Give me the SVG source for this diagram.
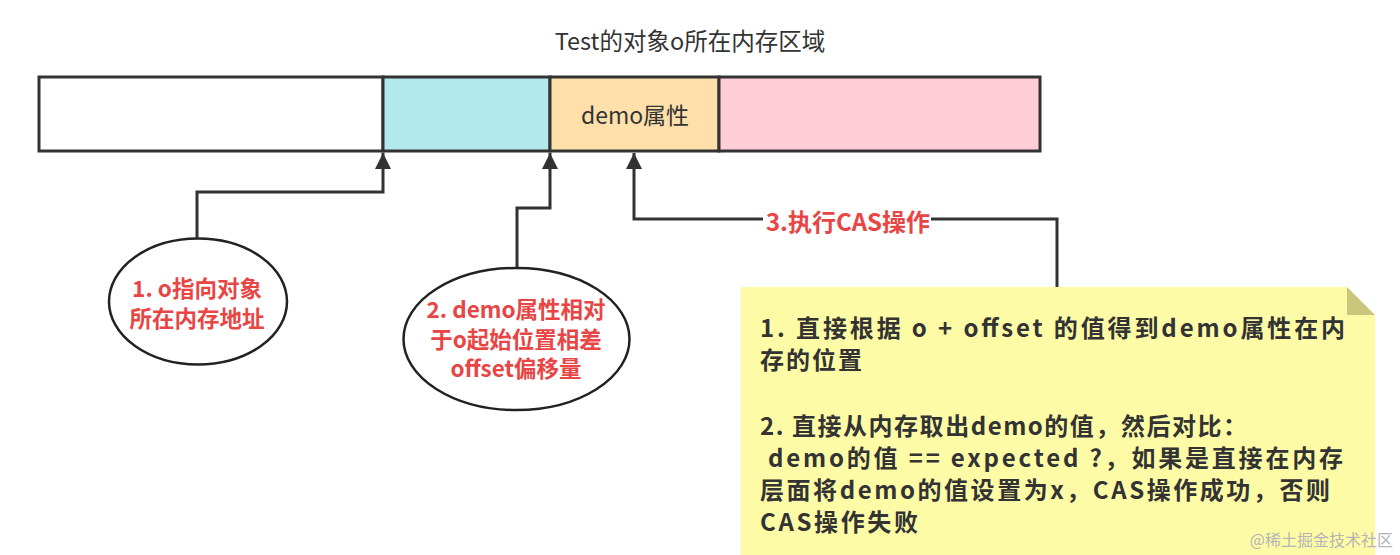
<svg xmlns="http://www.w3.org/2000/svg" width="1400" height="555" viewBox="0 0 1400 555">
<style>
.seg{stroke:#333;stroke-width:3}
.conn{fill:none;stroke:#333;stroke-width:3}
.ell{fill:#fff;stroke:#222;stroke-width:2.5}
.red{font-family:"Noto Sans CJK SC","Noto Sans",sans-serif;font-weight:bold;font-size:22.5px;fill:#e84545;text-anchor:middle}
.dark{font-family:"Noto Sans CJK SC","Noto Sans",sans-serif;fill:#333}
.note{font-family:"Noto Sans CJK SC","Noto Sans",sans-serif;font-weight:bold;font-size:24px;fill:#333}
</style>
<defs>
<marker id="arr" markerUnits="userSpaceOnUse" markerWidth="16" markerHeight="18" viewBox="0 0 16 18" refX="16" refY="8" orient="auto">
<path d="M0,0 L16,8 L0,16 Z" fill="#333"/>
</marker>
</defs>
<rect width="1400" height="555" fill="#fff"/>
<text class="dark" x="690" y="50" font-size="23.5" text-anchor="middle">Test的对象o所在内存区域</text>
<g id="memory">
<rect id="seg-a" class="seg" x="39" y="77" width="344" height="74" fill="#fff"/>
<rect id="seg-b" class="seg" x="383" y="77" width="167" height="74" fill="#b2e9ec"/>
<rect id="seg-demo" class="seg" x="550" y="77" width="169" height="74" fill="#ffe0ab"/>
<rect id="seg-d" class="seg" x="719" y="77" width="321" height="74" fill="#ffcdd6"/>
<text class="dark" x="635" y="124" font-size="23" text-anchor="middle">demo属性</text>
</g>
<g id="connectors">
<path class="conn" d="M197,238 V192 H383 V153" marker-end="url(#arr)"/>
<path class="conn" d="M517,268 V208 H550 V153" marker-end="url(#arr)"/>
<path class="conn" d="M1057,287 V219 H634 V153" marker-end="url(#arr)"/>
<rect x="763" y="204" width="168" height="32" fill="#fff"/>
<text class="red" x="848" y="231" style="font-size:24px">3.执行CAS操作</text>
</g>
<g id="node1">
<ellipse class="ell" cx="198" cy="301.5" rx="89" ry="63"/>
<text class="red" x="197" y="297">1. o指向对象</text>
<text class="red" x="197" y="327">所在内存地址</text>
</g>
<g id="node2">
<ellipse class="ell" cx="516.5" cy="339" rx="113" ry="71"/>
<text class="red" x="516" y="318">2. demo属性相对</text>
<text class="red" x="516" y="348">于o起始位置相差</text>
<text class="red" x="516" y="377">offset偏移量</text>
</g>
<g id="note">
<path d="M741,287 H1347 L1375,315 V555 H741 Z" fill="#fdfba6"/>
<path d="M1347,287 V315 H1375 Z" fill="#cac77c"/>
<text class="note" x="760" y="337" textLength="585" lengthAdjust="spacing">1. 直接根据 o + offset 的值得到demo属性在内</text>
<text class="note" x="760" y="369" textLength="102" lengthAdjust="spacing">存的位置</text>
<text class="note" x="760" y="435" textLength="487" lengthAdjust="spacing">2. 直接从内存取出demo的值，然后对比：</text>
<text class="note" x="768" y="467" textLength="575" lengthAdjust="spacing">demo的值 == expected ?，如果是直接在内存</text>
<text class="note" x="760" y="499" textLength="570" lengthAdjust="spacing">层面将demo的值设置为x，CAS操作成功，否则</text>
<text class="note" x="760" y="531" textLength="158" lengthAdjust="spacing">CAS操作失败</text>
</g>
<text class="dark" x="1393" y="546" font-size="16" style="fill:#b5b5b5" text-anchor="end">@稀土掘金技术社区</text>
</svg>
